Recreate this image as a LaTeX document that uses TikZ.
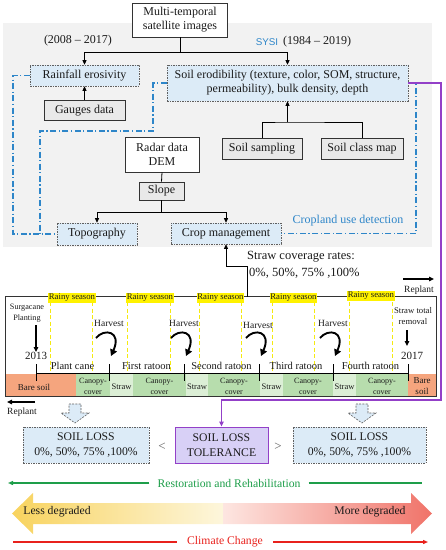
\documentclass[tikz,border=0pt]{standalone}
\usepackage{fontspec}
\setmainfont{Liberation Serif}
\newfontfamily\sansf{Liberation Sans}
\usetikzlibrary{arrows.meta,calc}
\definecolor{bg}{HTML}{F2F2F2}
\definecolor{bdr}{HTML}{333333}
\definecolor{gbox}{HTML}{E9E9E9}
\definecolor{lblue}{HTML}{DCEBF7}
\definecolor{dgray}{HTML}{606060}
\definecolor{blu}{HTML}{2E86C9}
\definecolor{purp}{HTML}{9340C8}
\definecolor{lav}{HTML}{D8D0F6}
\definecolor{yel}{HTML}{FFF200}
\definecolor{ydash}{HTML}{F5EA10}
\definecolor{orng}{HTML}{F5A57E}
\definecolor{cano}{HTML}{B7DDAD}
\definecolor{strw}{HTML}{DCEFD6}
\definecolor{grn}{HTML}{1E9E4A}
\definecolor{rd}{HTML}{E8211C}
\definecolor{txt}{HTML}{1A1A1A}
\definecolor{ylA}{HTML}{F8D35E}
\definecolor{ylB}{HTML}{FDF6DC}
\definecolor{rdA}{HTML}{FDE6E1}
\definecolor{rdB}{HTML}{F07369}
\newcommand\fA{\fontsize{12}{14}\selectfont}
\newcommand\fL{\fontsize{11.7}{15}\selectfont}
\newcommand\fRain{\fontsize{8.7}{10}\selectfont}
\newcommand\fHarv{\fontsize{9.5}{11}\selectfont}
\newcommand\fPhase{\fontsize{10.5}{12}\selectfont}
\newcommand\fSmall{\fontsize{8.5}{11}\selectfont}
\newcommand\fCan{\fontsize{8}{11}\selectfont}
\newcommand\fBig{\fontsize{12.5}{16}\selectfont}
\begin{document}
\begin{tikzpicture}[x=1pt,y=-1pt,
  every node/.style={text=txt, inner sep=0pt},
  wbox/.style={draw=bdr, line width=0.8pt, fill=white, align=center, font=\fA},
  gbx/.style={draw=bdr, line width=0.8pt, fill=gbox, align=center, font=\fA},
  dbx/.style={draw=dgray, line width=0.6pt, dash pattern=on 2pt off 1.2pt on 0.6pt off 1.2pt, fill=lblue, align=center, font=\fA},
  tip/.style={-{Triangle[length=4.5pt,width=4pt]}},
  arr/.style={draw=black, line width=0.8pt, tip},
  ln/.style={draw=black, line width=0.8pt},
  bdd/.style={draw=blu, line width=1.1pt, dash pattern=on 6pt off 2.5pt on 1.2pt off 2.5pt},
  ydl/.style={draw=ydash, line width=1pt, dash pattern=on 4pt off 2.5pt},
  rainy/.style={fill=yel, font=\fRain, inner xsep=0.5pt, inner ysep=1pt},
  harv/.style={font=\fHarv},
  phase/.style={font=\fPhase},
  curv/.style={draw=black, line width=1.9pt, -{Triangle[length=6.5pt,width=7pt]}},
  blk/.style={draw=black, line width=1.3pt, -{Triangle[length=5pt,width=4.5pt]}},
  barrow/.style={draw=dgray, line width=0.6pt, dash pattern=on 2pt off 1.2pt, fill=lblue}
]
\useasboundingbox (0,0) rectangle (446,550);
% ---------- upper panel ----------
\fill[bg] (3,23) rectangle (432,247);
\node[wbox, minimum width=95pt, minimum height=34pt] (sat) at (180,20) {Multi-temporal\\satellite images};
\node[font=\fA] (y1) at (78,41) {(2008 – 2017)};
\node[font=\fontsize{9.8}{11}\sansf, text=blu] (sysi) at (267,42) {SYSI};
\node[font=\fA, anchor=west] (y2) at (283,42) {(1984 – 2019)};
\node[dbx, minimum width=109pt, minimum height=21pt] (rain) at (84.5,75.5) {Rainfall erosivity};
\node[dbx, minimum width=241pt, minimum height=36pt] (soil) at (287.5,83) {Soil erodibility (texture, color, SOM, structure,\\permeability), bulk density, depth};
\node[gbx, minimum width=81pt, minimum height=20pt] (gauge) at (84.5,110.5) {Gauges data};
\node[wbox, minimum width=74pt, minimum height=35pt] (radar) at (162,154.5) {Radar data\\DEM};
\node[gbx, minimum width=45pt, minimum height=18pt] (slope) at (161.5,191) {Slope};
\node[gbx, minimum width=80pt, minimum height=21pt] (ssamp) at (262,148.5) {Soil sampling};
\node[gbx, minimum width=82pt, minimum height=21pt] (sclass) at (362,148.5) {Soil class map};
\node[dbx, minimum width=80pt, minimum height=22pt] (topo) at (97,234) {Topography};
\node[dbx, minimum width=110pt, minimum height=21pt] (crop) at (226,233.5) {Crop management};
\node[font=\fA, text=blu] (cld) at (348,221) {Cropland use detection};
% black connectors
\coordinate (j1) at (180,52);
\draw[ln] (sat.south) -- (j1);
\draw[arr] (j1) -| (rain.north);
\draw[arr] (j1) -| (soil.north);
\draw[arr] (gauge.north) -- (rain.south);
\coordinate (j2) at (287.5,122);
\draw[ln] (ssamp.north) |- (j2) -| (sclass.north);
\draw[arr] (j2) -- (soil.south);
\draw[ln] (radar.south) -- (slope.north);
\coordinate (j3) at (161.5,212);
\draw[ln] (slope.south) -- (j3);
\draw[arr] (j3) -| (topo.north);
\draw[arr] (j3) -| (crop.north);
% blue dash-dot connectors
\coordinate (b1) at (13,234);
\draw[bdd] (rain.west) -| (b1) -- (topo.west);
\coordinate (b2) at (153,131);
\coordinate (b3) at (40,234);
\draw[bdd] (soil.west) -| (b2) -| (b3);
\coordinate (b4) at (416,233.5);
\draw[bdd] (soil.east) -| (b4) -- (crop.east);
% ---------- timeline ----------
\node[font=\fBig, anchor=west] (scr1) at (247,257) {Straw coverage rates:};
\node[font=\fBig, anchor=west] (scr2) at (249,273) {0\%, 50\%, 75\% ,100\%};
\coordinate (rp1) at (403,279); \coordinate (rp2) at (434,279);
\draw[blk] (rp1) -- (rp2);
\node[font=\fHarv] (rpt1) at (419,290) {Replant};
% yellow dashed lines
\foreach \x in {50,92,127,170,199,241,272,314,349,392}{
  \draw[ydl] (\x,302) -- (\x,399);
}
% band
\fill[orng] (5,374) rectangle (76,396.5);
\fill[cano] (76,374) rectangle (110,396.5);
\fill[strw] (110,374) rectangle (133,396.5);
\fill[cano] (133,374) rectangle (186,396.5);
\fill[strw] (186,374) rectangle (208,396.5);
\fill[cano] (208,374) rectangle (260,396.5);
\fill[strw] (260,374) rectangle (283,396.5);
\fill[cano] (283,374) rectangle (333,396.5);
\fill[strw] (333,374) rectangle (356,396.5);
\fill[cano] (356,374) rectangle (408,396.5);
\fill[orng] (408,374) rectangle (436,396.5);
\draw[bdr, line width=0.8pt] (5,296.5) rectangle (436,396.5);
% crop management connector from timeline
\coordinate (c1) at (247,296.5);
\coordinate (c2) at (226,266);
\draw[arr] (c1) |- (c2) -- (crop.south);
% rainy season labels
\node[rainy] (rs1) at (72,298) {Rainy season};
\node[rainy] (rs2) at (150,298) {Rainy season};
\node[rainy] (rs3) at (220.5,298) {Rainy season};
\node[rainy] (rs4) at (293.5,298) {Rainy season};
\node[rainy] (rs5) at (371,296) {Rainy season};
% band labels
\node[font=\fontsize{9}{11}\selectfont] (bs1) at (34,387) {Bare soil};
\node[font=\fCan, align=center] (cc1) at (93,386) {Canopy-\\cover};
\node[font=\fSmall] (st1) at (121.5,387) {Straw};
\node[font=\fCan, align=center] (cc2) at (159.5,386) {Canopy-\\cover};
\node[font=\fSmall] (st2) at (197,387) {Straw};
\node[font=\fCan, align=center] (cc3) at (234,386) {Canopy-\\cover};
\node[font=\fSmall] (st3) at (271.5,387) {Straw};
\node[font=\fCan, align=center] (cc4) at (308,386) {Canopy-\\cover};
\node[font=\fSmall] (st4) at (344.5,387) {Straw};
\node[font=\fCan, align=center] (cc5) at (382,386) {Canopy-\\cover};
\node[font=\fontsize{9}{11}\selectfont, align=center] (bs2) at (422,386) {Bare\\soil};
% timeline axis
\draw[ln] (36,373) -- (408,373);
\foreach \x in {36,109,184,259,333,408}{
  \draw[ln] (\x,364) -- (\x,381);
}
\node[phase] (ph1) at (72.5,366) {Plant cane};
\node[phase] (ph2) at (146.5,366) {First ratoon};
\node[phase] (ph3) at (221.5,366) {Second ratoon};
\node[phase] (ph4) at (296,366) {Third ratoon};
\node[phase] (ph5) at (370.5,366) {Fourth ratoon};
% harvest
\node[harv] (h1) at (109,323) {Harvest};
\node[harv] (h2) at (184,323) {Harvest};
\node[harv] (h3) at (258,325) {Harvest};
\node[harv] (h4) at (333,323) {Harvest};
\foreach \h in {109,184,259,333}{
  \draw[curv] (\h-13,338) .. controls (\h-5,328) and (\h+13,331) .. (\h+2,356);
}
% start / end
\node[font=\fontsize{8.2}{11}\selectfont, align=center] (plant) at (27,313) {Surgacane\\Planting};
\node[font=\fontsize{11}{13}\selectfont] (y13) at (36,356) {2013};
\draw[blk] (plant.south -| y13.north) ++(0,3) -- (y13.north);
\node[font=\fontsize{8.7}{11}\selectfont, align=center] (remv) at (413,316) {Straw total\\removal};
\node[font=\fontsize{11}{13}\selectfont] (y17) at (412,356) {2017};
\draw[blk] (407,330) -- (407,346);
\coordinate (rl1) at (35,402); \coordinate (rl2) at (7,402);
\draw[blk] (rl1) -- (rl2);
\node[font=\fHarv] (rpt2) at (22,412) {Replant};
% ---------- soil loss ----------
\filldraw[barrow] (69,404) -- (81,404) -- (81,413) -- (89,413) -- (75,423) -- (61,413) -- (69,413) -- cycle;
\filldraw[barrow] (356,404) -- (368,404) -- (368,413) -- (376,413) -- (362,423) -- (348,413) -- (356,413) -- cycle;
\node[dbx, minimum width=126pt, minimum height=36pt, font=\fL] (sl1) at (86,445) {SOIL LOSS\\0\%, 50\%, 75\% ,100\%};
\node[draw=purp, line width=1pt, fill=lav, align=center, minimum width=93pt, minimum height=36pt, font=\fL] (tol) at (221.5,445) {SOIL LOSS\\TOLERANCE};
\node[dbx, minimum width=133pt, minimum height=36pt, font=\fL] (sl2) at (359.5,445) {SOIL LOSS\\0\%, 50\%, 75\% ,100\%};
\node[font=\fontsize{13}{15}\selectfont, text=dgray] (lt) at (162,447) {<};
\node[font=\fontsize{13}{15}\selectfont, text=dgray] (gt) at (278,447) {>};
% purple connector
\coordinate (p1) at (441,400);
\draw[purp, line width=1.3pt, -{Triangle[length=5pt,width=4.5pt]}] (soil.east) -| (p1) -| (tol.north);
% ---------- bottom arrows ----------
\node[font=\fL, text=grn, inner xsep=8pt] (rest) at (229,483) {Restoration and Rehabilitation};
\coordinate (g1) at (8,483); \coordinate (g2) at (422,483);
\draw[grn, line width=1.2pt, -{Triangle[length=5pt,width=4pt]}] (rest.west) -- (g1);
\draw[grn, line width=1.2pt] (rest.east) -- (g2);
\shade[left color=ylA, right color=ylB] (12,513.5) -- (33,493) -- (33,503) -- (223,503) -- (223,524) -- (33,524) -- (33,534) -- cycle;
\shade[left color=rdA, right color=rdB] (223,503) -- (411,503) -- (411,493) -- (432,513.5) -- (411,534) -- (411,524) -- (223,524) -- cycle;
\node[font=\fL] (less) at (57,512) {Less degraded};
\node[font=\fL] (more) at (370,512) {More degraded};
\node[font=\fL, text=rd, inner xsep=10pt] (clim) at (225,542) {Climate Change};
\coordinate (r1) at (13,542); \coordinate (r2) at (428,542);
\draw[rd, line width=1.2pt] (r1) -- (clim.west);
\draw[rd, line width=1.2pt, -{Triangle[length=5pt,width=4pt]}] (clim.east) -- (r2);
\end{tikzpicture}
\end{document}
